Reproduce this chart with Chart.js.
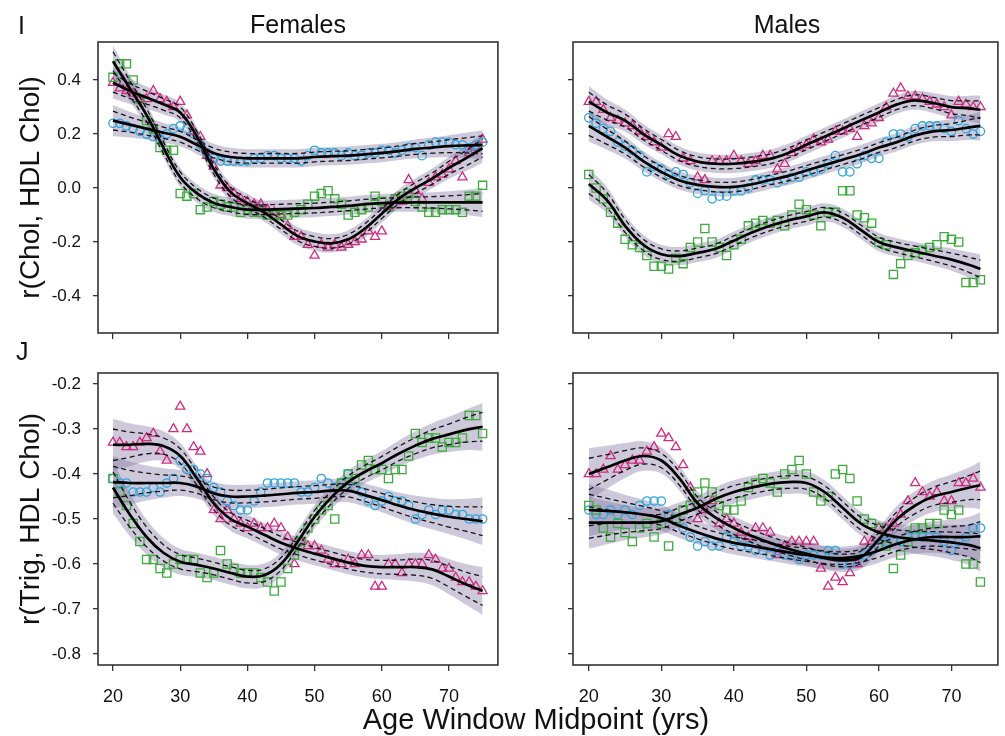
<!DOCTYPE html>
<html><head><meta charset="utf-8">
<script src="https://cdn.jsdelivr.net/npm/chart.js@4.4.0/dist/chart.umd.min.js"></script>
<style>
html,body{margin:0;padding:0;background:#fff;}
#wrap{position:relative;width:1005px;height:736px;overflow:hidden;font-family:"Liberation Sans",Arial,sans-serif;color:#111;background:#fff;}
canvas{position:absolute;}
.lbl{position:absolute;white-space:nowrap;line-height:1;}
.ctr{transform:translateX(-50%);}
</style></head><body>
<div id="wrap">
<canvas id="cTL" width="505" height="345" style="left:0;top:0;width:505px;height:345px"></canvas>
<canvas id="cTR" width="500" height="345" style="left:505px;top:0;width:500px;height:345px"></canvas>
<canvas id="cBL" width="505" height="391" style="left:0;top:345px;width:505px;height:391px"></canvas>
<canvas id="cBR" width="500" height="391" style="left:505px;top:345px;width:500px;height:391px"></canvas>
<div class="lbl" style="left:18px;top:13px;font-size:25px">I</div>
<div class="lbl" style="left:16px;top:339px;font-size:25px">J</div>
<div class="lbl ctr" style="left:298px;top:12px;font-size:25px">Females</div>
<div class="lbl ctr" style="left:787px;top:12px;font-size:25px">Males</div>
<div class="lbl ctr" style="left:536px;top:705px;font-size:29px">Age Window Midpoint (yrs)</div>
</div>
<script>
// ---------- categories / ticks ----------
const agesF = [20,21,22,23,24,25,26,27,28,29,30,31,32,33,34,35,36,37,38,39,40,41,42,43,44,45,46,47,48,49,50,51,52,53,54,55,56,57,58,59,60,61,62,63,64,65,66,67,68,69,70,71,72,73,74,75];
const agesM = [20,21,22,23,24,25,26,27,28,29,30,31,32,33,34,35,36,37,38,39,40,41,42,43,44,45,46,47,48,49,50,51,52,53,54,55,56,57,58,59,60,61,62,63,64,65,66,67,68,69,70,71,72,73,74];
const fitAgesF = [20,22.5,25,27.5,30,32.5,35,37.5,40,42.5,45,47.5,50,52.5,55,57.5,60,62.5,65,67.5,70,72.5,75];
const fitAgesM = [20,22.5,25,27.5,30,32.5,35,37.5,40,42.5,45,47.5,50,52.5,55,57.5,60,62.5,65,67.5,70,72.5,74];
const xTicks = [20,30,40,50,60,70];
const yTicksChol = [-0.4,-0.2,0,0.2,0.4];
const yTicksTrig = [-0.8,-0.7,-0.6,-0.5,-0.4,-0.3,-0.2];

// ---------- Females, r(Chol, HDL Chol) ----------
const fCholTri = [0.39,0.37,0.36,0.35,0.33,0.33,0.36,0.33,0.32,0.30, 0.32,0.27,0.21,0.19,0.12,0.08,0.01,0.00,-0.02,-0.04, -0.05,-0.06,-0.06,-0.08,-0.09,-0.10,-0.14,-0.18,-0.18,-0.21, -0.25,-0.21,-0.22,-0.21,-0.22,-0.21,-0.20,-0.19,-0.16,-0.18, -0.16,-0.07,-0.04,-0.05,0.03,-0.01,-0.04,0.02,0.04,0.05, 0.07,0.10,0.04,0.13,0.15,0.18];
const fCholCir = [0.24,0.24,0.23,0.22,0.21,0.20,0.19,0.18,0.20,0.22, 0.23,0.22,0.20,0.16,0.13,0.11,0.10,0.10,0.10,0.10, 0.10,0.11,0.11,0.12,0.12,0.11,0.11,0.11,0.10,0.12, 0.14,0.13,0.13,0.13,0.12,0.13,0.12,0.12,0.13,0.13, 0.14,0.14,0.13,0.14,0.15,0.15,0.12,0.16,0.17,0.17, 0.17,0.16,0.16,0.15,0.16,0.17];
const fCholSq = [0.41,0.46,0.46,0.40,0.33,0.25,0.22,0.15,0.14,0.14, -0.02,-0.03,-0.02,-0.08,-0.07,-0.05,-0.06,-0.07,-0.07,-0.09, -0.08,-0.09,-0.09,-0.10,-0.10,-0.10,-0.10,-0.09,-0.08,-0.06, -0.03,-0.02,-0.01,-0.04,-0.06,-0.10,-0.09,-0.08,-0.07,-0.03, -0.05,-0.07,-0.04,-0.03,-0.02,-0.05,-0.07,-0.09,-0.09,-0.08, -0.08,-0.08,-0.09,-0.03,-0.03,0.01];
const fCholTriFit = [0.39,0.36,0.335,0.31,0.28,0.19,0.07,-0.015,-0.056,-0.09,-0.135,-0.178,-0.198,-0.205,-0.19,-0.15,-0.095,-0.04,0.00,0.035,0.075,0.11,0.148];
const fCholCirFit = [0.25,0.235,0.22,0.205,0.19,0.16,0.13,0.115,0.11,0.11,0.11,0.11,0.115,0.118,0.12,0.125,0.13,0.137,0.145,0.15,0.155,0.158,0.16];
const fCholSqFit = [0.47,0.37,0.27,0.15,0.04,-0.02,-0.055,-0.07,-0.08,-0.08,-0.078,-0.076,-0.074,-0.07,-0.066,-0.06,-0.056,-0.054,-0.053,-0.053,-0.053,-0.053,-0.053];

// ---------- Males, r(Chol, HDL Chol) ----------
const mCholTri = [0.32,0.32,0.29,0.26,0.25,0.24,0.23,0.21,0.19,0.17, 0.15,0.20,0.19,0.11,0.10,0.04,0.03,0.10,0.10,0.10, 0.12,0.10,0.09,0.10,0.12,0.12,0.07,0.09,0.13,0.15, 0.16,0.18,0.17,0.18,0.21,0.21,0.22,0.19,0.23,0.24, 0.26,0.30,0.35,0.37,0.34,0.34,0.33,0.32,0.31,0.30, 0.27,0.32,0.31,0.30,0.30];
const mCholCir = [0.26,0.24,0.22,0.21,0.17,0.155,0.14,0.12,0.06,0.08, 0.07,0.05,0.06,0.05,0.02,-0.02,-0.01,-0.04,-0.03,-0.03, -0.01,-0.01,0.00,0.03,0.03,0.03,0.02,0.03,0.04,0.04, 0.06,0.06,0.07,0.09,0.12,0.06,0.06,0.09,0.12,0.11, 0.11,0.17,0.20,0.20,0.19,0.22,0.23,0.23,0.23,0.22, 0.21,0.25,0.22,0.20,0.21];
const mCholSq = [0.05,0.00,-0.04,-0.09,-0.13,-0.19,-0.21,-0.22,-0.25,-0.29, -0.29,-0.30,-0.26,-0.28,-0.22,-0.20,-0.15,-0.20,-0.22,-0.25, -0.21,-0.19,-0.14,-0.13,-0.12,-0.13,-0.12,-0.14,-0.10,-0.06, -0.08,-0.10,-0.14,-0.09,-0.09,-0.01,-0.01,-0.10,-0.11,-0.13, -0.20,-0.21,-0.32,-0.28,-0.25,-0.24,-0.23,-0.22,-0.21,-0.18, -0.19,-0.20,-0.35,-0.35,-0.34];
const mCholTriFit = [0.32,0.28,0.25,0.20,0.16,0.12,0.098,0.09,0.09,0.097,0.108,0.13,0.16,0.19,0.22,0.25,0.28,0.31,0.325,0.315,0.30,0.295,0.29];
const mCholCirFit = [0.23,0.19,0.15,0.10,0.06,0.028,0.012,0.004,0.004,0.014,0.03,0.045,0.065,0.085,0.105,0.125,0.15,0.17,0.195,0.21,0.215,0.225,0.23];
const mCholSqFit = [0.015,-0.045,-0.14,-0.21,-0.245,-0.252,-0.24,-0.225,-0.195,-0.165,-0.14,-0.12,-0.105,-0.09,-0.11,-0.155,-0.2,-0.22,-0.235,-0.25,-0.265,-0.285,-0.3];

// ---------- Females, r(Trig, HDL Chol) ----------
const fTrigTri = [-0.33,-0.33,-0.34,-0.34,-0.33,-0.32,-0.31,-0.35,-0.37,-0.30, -0.25,-0.30,-0.34,-0.35,-0.40,-0.48,-0.50,-0.48,-0.50,-0.51, -0.52,-0.51,-0.52,-0.52,-0.51,-0.52,-0.54,-0.60,-0.55,-0.56, -0.56,-0.57,-0.59,-0.60,-0.60,-0.59,-0.60,-0.58,-0.58,-0.65, -0.65,-0.60,-0.60,-0.62,-0.60,-0.60,-0.60,-0.58,-0.59,-0.61, -0.61,-0.63,-0.64,-0.64,-0.65,-0.66];
const fTrigCir = [-0.41,-0.42,-0.42,-0.44,-0.44,-0.44,-0.43,-0.44,-0.42,-0.41, -0.37,-0.39,-0.39,-0.40,-0.41,-0.43,-0.44,-0.46,-0.47,-0.48, -0.48,-0.46,-0.44,-0.42,-0.42,-0.42,-0.42,-0.42,-0.44,-0.44, -0.43,-0.41,-0.42,-0.43,-0.42,-0.40,-0.43,-0.44,-0.46,-0.47, -0.46,-0.45,-0.46,-0.46,-0.47,-0.50,-0.49,-0.48,-0.49,-0.48, -0.48,-0.49,-0.49,-0.50,-0.50,-0.50];
const fTrigSq = [-0.41,-0.44,-0.47,-0.51,-0.55,-0.59,-0.59,-0.61,-0.62,-0.60, -0.59,-0.59,-0.59,-0.62,-0.63,-0.62,-0.57,-0.60,-0.61,-0.62, -0.62,-0.62,-0.63,-0.64,-0.66,-0.64,-0.61,-0.58,-0.55,-0.52, -0.50,-0.48,-0.47,-0.50,-0.42,-0.40,-0.41,-0.38,-0.37,-0.39, -0.39,-0.41,-0.39,-0.39,-0.36,-0.31,-0.33,-0.32,-0.32,-0.34, -0.33,-0.33,-0.32,-0.27,-0.27,-0.31];
const fTrigTriFit = [-0.335,-0.335,-0.333,-0.338,-0.36,-0.41,-0.465,-0.5,-0.517,-0.535,-0.553,-0.566,-0.577,-0.587,-0.597,-0.604,-0.607,-0.607,-0.607,-0.612,-0.628,-0.645,-0.66];
const fTrigCirFit = [-0.418,-0.42,-0.42,-0.42,-0.42,-0.428,-0.443,-0.45,-0.45,-0.448,-0.445,-0.442,-0.44,-0.437,-0.437,-0.447,-0.458,-0.47,-0.48,-0.488,-0.495,-0.5,-0.505];
const fTrigSqFit = [-0.43,-0.49,-0.54,-0.575,-0.595,-0.602,-0.61,-0.62,-0.628,-0.625,-0.6,-0.55,-0.495,-0.452,-0.418,-0.395,-0.376,-0.355,-0.337,-0.322,-0.312,-0.302,-0.295];

// ---------- Males, r(Trig, HDL Chol) ----------
const mTrigTri = [-0.40,-0.40,-0.39,-0.36,-0.39,-0.38,-0.37,-0.37,-0.35,-0.34, -0.31,-0.32,-0.34,-0.38,-0.43,-0.50,-0.48,-0.46,-0.51,-0.50, -0.51,-0.53,-0.54,-0.52,-0.52,-0.53,-0.58,-0.56,-0.55,-0.55, -0.55,-0.55,-0.61,-0.65,-0.63,-0.64,-0.62,-0.60,-0.55,-0.55, -0.52,-0.52,-0.51,-0.49,-0.46,-0.42,-0.44,-0.45,-0.44,-0.46, -0.46,-0.42,-0.42,-0.41,-0.43];
const mTrigCir = [-0.48,-0.49,-0.49,-0.48,-0.49,-0.48,-0.49,-0.47,-0.46,-0.46, -0.46,-0.49,-0.50,-0.52,-0.54,-0.56,-0.55,-0.56,-0.56,-0.54, -0.55,-0.56,-0.56,-0.57,-0.57,-0.58,-0.57,-0.58,-0.58,-0.59, -0.58,-0.58,-0.58,-0.57,-0.57,-0.60,-0.60,-0.59,-0.58,-0.57, -0.56,-0.55,-0.55,-0.55,-0.54,-0.54,-0.54,-0.54,-0.54,-0.55, -0.57,-0.55,-0.54,-0.52,-0.52];
const mTrigSq = [-0.47,-0.48,-0.52,-0.54,-0.51,-0.53,-0.55,-0.52,-0.51,-0.54, -0.51,-0.56,-0.50,-0.48,-0.47,-0.44,-0.42,-0.44,-0.47,-0.48, -0.48,-0.46,-0.43,-0.42,-0.41,-0.42,-0.44,-0.40,-0.39,-0.37, -0.40,-0.44,-0.46,-0.45,-0.40,-0.39,-0.41,-0.46,-0.50,-0.51, -0.52,-0.56,-0.61,-0.58,-0.55,-0.52,-0.52,-0.51,-0.51,-0.48, -0.49,-0.48,-0.60,-0.60,-0.64];
const mTrigTriFit = [-0.40,-0.385,-0.37,-0.36,-0.37,-0.41,-0.465,-0.497,-0.52,-0.538,-0.553,-0.566,-0.577,-0.587,-0.592,-0.585,-0.545,-0.50,-0.47,-0.45,-0.44,-0.43,-0.425];
const mTrigCirFit = [-0.48,-0.482,-0.485,-0.49,-0.498,-0.515,-0.53,-0.543,-0.553,-0.56,-0.567,-0.574,-0.58,-0.585,-0.587,-0.582,-0.57,-0.555,-0.545,-0.54,-0.54,-0.54,-0.538];
const mTrigSqFit = [-0.508,-0.508,-0.508,-0.508,-0.505,-0.49,-0.475,-0.455,-0.44,-0.43,-0.422,-0.418,-0.42,-0.44,-0.475,-0.51,-0.53,-0.54,-0.545,-0.548,-0.552,-0.558,-0.565];

// ---------- confidence half-widths ----------
const bandHalfChol = [0.058,0.048,0.041,0.037,0.035,0.034,0.034,0.034,0.034,0.034,0.034,0.034,0.034,0.034,0.034,0.034,0.034,0.034,0.035,0.037,0.041,0.047,0.054];
const dashHalfChol = [0.035,0.028,0.024,0.021,0.02,0.019,0.018,0.018,0.018,0.018,0.018,0.018,0.018,0.018,0.018,0.018,0.018,0.019,0.02,0.021,0.024,0.028,0.033];
const bandHalfTrig = [0.058,0.048,0.039,0.033,0.029,0.027,0.026,0.026,0.026,0.026,0.026,0.026,0.026,0.026,0.026,0.026,0.027,0.029,0.032,0.035,0.039,0.045,0.053];
const dashHalfTrig = [0.035,0.028,0.022,0.018,0.016,0.015,0.014,0.014,0.014,0.014,0.014,0.014,0.014,0.014,0.014,0.014,0.015,0.016,0.018,0.02,0.023,0.027,0.032];

// ---------- styling ----------
const FONT = '"Liberation Sans", Arial, sans-serif';
const C_TRI = '#d02a80', C_CIR = '#2fa5de', C_SQ = '#3cab3c';
const C_BAND = 'rgba(118,104,152,0.36)';
Chart.defaults.font.family = FONT;

function pts(ages, vals){ return ages.map((a,i)=>({x:a, y:vals[i]})); }
function shifted(ages, fit, w, s){ return ages.map((a,i)=>({x:a, y:fit[i] + s*w[i]})); }

function curveSets(ages, fit, band, dash){
  const base = {pointRadius:0, pointHoverRadius:0, tension:0.4, fill:false};
  return [
    Object.assign({}, base, {data:shifted(ages,fit,band,1), borderWidth:0, borderColor:'rgba(0,0,0,0)', order:3}),
    Object.assign({}, base, {data:shifted(ages,fit,band,-1), borderWidth:0, borderColor:'rgba(0,0,0,0)', fill:'-1', backgroundColor:C_BAND, order:3}),
    Object.assign({}, base, {data:shifted(ages,fit,dash,1), borderColor:'#151515', borderWidth:1.3, borderDash:[5,3.5], order:1}),
    Object.assign({}, base, {data:shifted(ages,fit,dash,-1), borderColor:'#151515', borderWidth:1.3, borderDash:[5,3.5], order:1}),
    Object.assign({}, base, {data:pts(ages,fit), borderColor:'#000', borderWidth:2.7, order:0})
  ];
}
function scatterSet(ages, vals, style, color, r){
  return {data:pts(ages,vals), showLine:false, pointStyle:style, pointRadius:r, pointHoverRadius:r,
    pointBorderColor:color, pointBackgroundColor:'rgba(0,0,0,0)', pointBorderWidth:1.3,
    borderColor:color, backgroundColor:'rgba(0,0,0,0)', order:2};
}

const framePlugin = {id:'frame', afterDatasetsDraw(c){
  const a = c.chartArea, x = c.ctx; x.save(); x.strokeStyle = '#333'; x.lineWidth = 1.6;
  x.strokeRect(a.left, a.top, a.right - a.left, a.bottom - a.top); x.restore(); }};

function makeChart(id, datasets, o){
  const gridOpt = (tl)=>({display:true, drawOnChartArea:false, drawTicks:true, tickLength:tl, color:'#333', lineWidth:1.3});
  return new Chart(document.getElementById(id), {
    type:'line',
    data:{datasets},
    options:{
      responsive:false, animation:false, devicePixelRatio:1,
      layout:{padding:{left:0, top:o.top, right:o.right, bottom:0}},
      plugins:{legend:{display:false}, tooltip:{enabled:false}},
      scales:{
        x:{type:'linear', min:o.xmin, max:o.xmax,
          afterBuildTicks:s=>{ s.ticks = xTicks.map(v=>({value:v})); },
          afterFit:s=>{ s.height = o.xh; s.paddingLeft = 0; s.paddingRight = 0; s.paddingTop = 0; s.paddingBottom = 0; },
          grid:gridOpt(6), border:{display:false},
          ticks:{display:o.xLabels, font:{family:FONT, size:18}, color:'#111', padding:15, maxRotation:0, autoSkip:false, callback:v=>String(v)}},
        y:{type:'linear', min:o.ymin, max:o.ymax,
          afterBuildTicks:s=>{ s.ticks = o.yTicks.map(v=>({value:v})); },
          afterFit:s=>{ s.width = o.yw; s.paddingLeft = 0; s.paddingRight = 0; s.paddingTop = 0; s.paddingBottom = 0; },
          grid:gridOpt(5), border:{display:false},
          ticks:{display:o.yLabels, font:{family:FONT, size:17}, color:'#111', padding:12, autoSkip:false, callback:v=>Number(v).toFixed(1)},
          title:{display:!!o.ytitle, text:o.ytitle || '', font:{family:FONT, size:28}, color:'#111', padding:{top:14, bottom:0}}}
      }
    },
    plugins:[framePlugin]
  });
}

function panelSets(ages, fitAges, tri, cir, sq, triFit, cirFit, sqFit, band, dash){
  return [].concat(
    curveSets(fitAges, cirFit, band, dash),
    curveSets(fitAges, sqFit, band, dash),
    curveSets(fitAges, triFit, band, dash),
    [scatterSet(ages, sq, 'rect', C_SQ, 5.8),
     scatterSet(ages, cir, 'circle', C_CIR, 4.2),
     scatterSet(ages, tri, 'triangle', C_TRI, 5.3)]
  );
}

makeChart('cTL', panelSets(agesF, fitAgesF, fCholTri, fCholCir, fCholSq, fCholTriFit, fCholCirFit, fCholSqFit, bandHalfChol, dashHalfChol),
  {top:42, right:6, xh:12, yw:98, xmin:17.77, xmax:77.28, ymin:-0.537, ymax:0.541, yTicks:yTicksChol, xLabels:false, yLabels:true, ytitle:'r(Chol, HDL Chol)'});
makeChart('cTR', panelSets(agesM, fitAgesM, mCholTri, mCholCir, mCholSq, mCholTriFit, mCholCirFit, mCholSqFit, bandHalfChol, dashHalfChol),
  {top:42, right:3, xh:12, yw:68, xmin:17.82, xmax:76.41, ymin:-0.537, ymax:0.541, yTicks:yTicksChol, xLabels:false, yLabels:false, ytitle:''});
makeChart('cBL', panelSets(agesF, fitAgesF, fTrigTri, fTrigCir, fTrigSq, fTrigTriFit, fTrigCirFit, fTrigSqFit, bandHalfTrig, dashHalfTrig),
  {top:28, right:6, xh:71, yw:98, xmin:17.77, xmax:77.28, ymin:-0.8244, ymax:-0.1756, yTicks:yTicksTrig, xLabels:true, yLabels:true, ytitle:'r(Trig, HDL Chol)'});
makeChart('cBR', panelSets(agesM, fitAgesM, mTrigTri, mTrigCir, mTrigSq, mTrigTriFit, mTrigCirFit, mTrigSqFit, bandHalfTrig, dashHalfTrig),
  {top:28, right:3, xh:71, yw:68, xmin:17.82, xmax:76.41, ymin:-0.8244, ymax:-0.1756, yTicks:yTicksTrig, xLabels:true, yLabels:false, ytitle:''});
</script>
</body></html>
